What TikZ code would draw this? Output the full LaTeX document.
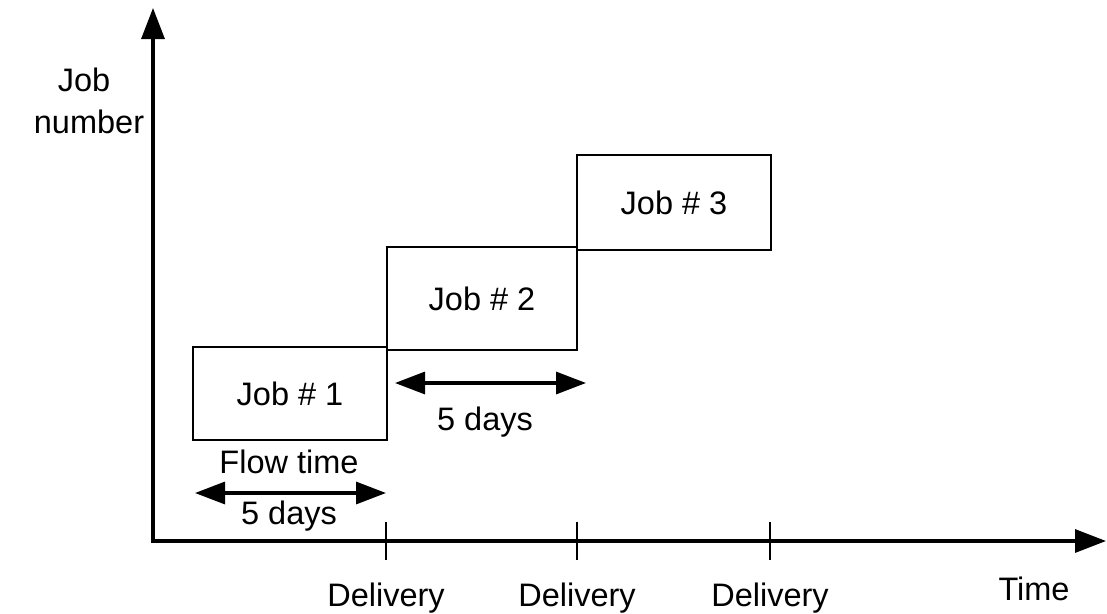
\documentclass[tikz,border=0pt]{standalone}
\usepackage{fontspec}
\setmainfont{Liberation Sans}
\usetikzlibrary{arrows.meta}
\begin{document}
\begin{tikzpicture}[x=1pt,y=-1pt,
  lbl/.style={font=\fontsize{32.5}{38}\selectfont, inner sep=0pt},
  jobbox/.style={draw, line width=2.5pt, inner sep=0pt, outer sep=0pt, font=\fontsize{32.5}{38}\selectfont},
  axis/.style={line width=3.2pt, -{Triangle[length=31pt,width=23pt]}},
  dim/.style={line width=3.2pt, {Triangle[length=30pt,width=22pt]}-{Triangle[length=30pt,width=22pt]}},
  tick/.style={line width=2.8pt}]
\useasboundingbox (0,0) rectangle (1107,613);
% axes
\coordinate (o) at (153,541);
\coordinate (ytop) at (153,8);
\coordinate (xend) at (1106,541);
\draw[axis] (153,543) -- (ytop);
\draw[axis] (151,541) -- (xend);
% ticks
\foreach \n/\x in {1/386,2/577,3/770}{
  \coordinate (t\n a) at (\x,522);
  \coordinate (t\n b) at (\x,560);
  \draw[tick] (t\n a) -- (t\n b);
}
% boxes
\node[jobbox, minimum width=194pt, minimum height=93pt] (j1) at (290,393.5) {Job \# 1};
\node[jobbox, minimum width=190pt, minimum height=103pt] (j2) at (482,298.5) {Job \# 2};
\node[jobbox, minimum width=194pt, minimum height=95pt] (j3) at (674,202.5) {Job \# 3};
% dimension arrows
\coordinate (a1s) at (195,493);
\coordinate (a1e) at (386,493);
\coordinate (a2s) at (395,383);
\coordinate (a2e) at (586,383);
\draw[dim] (a1s) -- (a1e);
\draw[dim] (a2s) -- (a2e);
% labels
\node[lbl] (flow) at (289,462) {Flow time};
\node[lbl] (d1) at (289,516) {5 days};
\node[lbl] (d2) at (485,422) {5 days};
\node[lbl] (job) at (84,80) {Job};
\node[lbl] (num) at (89,122) {number};
\node[lbl] (del1) at (386,598) {Delivery};
\node[lbl] (del2) at (577,598) {Delivery};
\node[lbl] (del3) at (770,598) {Delivery};
\node[lbl] (time) at (1034,589) {Time};
\end{tikzpicture}
\end{document}
